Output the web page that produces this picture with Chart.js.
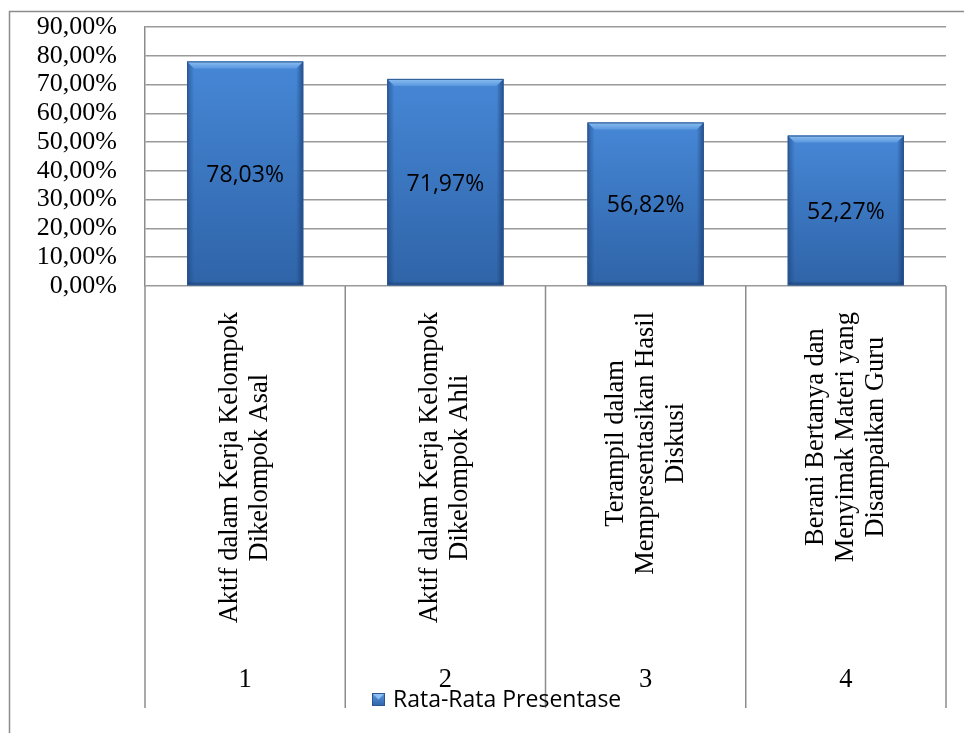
<!DOCTYPE html>
<html>
<head>
<meta charset="utf-8">
<script src="https://cdn.jsdelivr.net/npm/chart.js@4.4.0/dist/chart.umd.min.js"></script>
<style>
html,body{margin:0;padding:0;background:#fff;}
#wrap{width:964px;height:733px;position:relative;}
canvas{display:block;}
</style>
</head>
<body>
<div id="wrap"><canvas id="c" width="964" height="733"></canvas></div>
<script>
const categoryNumbers = ["1", "2", "3", "4"];
const categoryNames = [
  ["Aktif dalam Kerja Kelompok", "Dikelompok Asal"],
  ["Aktif dalam Kerja Kelompok", "Dikelompok Ahli"],
  ["Terampil dalam", "Mempresentasikan Hasil", "Diskusi"],
  ["Berani Bertanya dan", "Menyimak Materi yang", "Disampaikan Guru"]
];
const seriesName = "Rata-Rata Presentase";
const values = [78.03, 71.97, 56.82, 52.27];
const yMin = 0, yMax = 90, yStep = 10;

const SERIF = "'Liberation Serif','Times New Roman',serif";
const SANS = "'Open Sans','Noto Sans',sans-serif";
const fmt = v => v.toFixed(2).replace('.', ',') + '%';

const decor = {
  id: 'decor',
  beforeDraw(chart) {
    const ctx = chart.ctx;
    ctx.save();
    ctx.strokeStyle = '#8c8c8c';
    ctx.lineWidth = 1.5;
    ctx.beginPath();
    ctx.moveTo(9.5, 733);
    ctx.lineTo(9.5, 11.5);
    ctx.lineTo(964, 11.5);
    ctx.stroke();
    ctx.restore();
  },
  afterDatasetsDraw(chart) {
    const ctx = chart.ctx;
    const meta = chart.getDatasetMeta(0);
    ctx.save();
    meta.data.forEach((el, i) => {
      const p = el.getProps(['x', 'y', 'width', 'base'], true);
      const l = p.x - p.width / 2, r = p.x + p.width / 2, t = p.y, b = p.base;
      const bv = 7;
      let g = ctx.createLinearGradient(0, t, 0, b);
      g.addColorStop(0, '#4687d6');
      g.addColorStop(1, '#2f64a8');
      ctx.fillStyle = g;
      ctx.fillRect(l, t, r - l, b - t);
      g = ctx.createLinearGradient(l, 0, l + bv, 0);
      g.addColorStop(0, 'rgba(25,60,115,0.55)');
      g.addColorStop(1, 'rgba(25,60,115,0)');
      ctx.fillStyle = g;
      ctx.beginPath();
      ctx.moveTo(l, t); ctx.lineTo(l + bv, t + bv); ctx.lineTo(l + bv, b - 3); ctx.lineTo(l, b); ctx.closePath();
      ctx.fill();
      g = ctx.createLinearGradient(r, 0, r - bv, 0);
      g.addColorStop(0, 'rgba(20,50,100,0.65)');
      g.addColorStop(1, 'rgba(20,50,100,0)');
      ctx.fillStyle = g;
      ctx.beginPath();
      ctx.moveTo(r, t); ctx.lineTo(r - bv, t + bv); ctx.lineTo(r - bv, b - 3); ctx.lineTo(r, b); ctx.closePath();
      ctx.fill();
      g = ctx.createLinearGradient(0, t, 0, t + bv);
      g.addColorStop(0, '#8cc0f2');
      g.addColorStop(1, '#5a97df');
      ctx.fillStyle = g;
      ctx.beginPath();
      ctx.moveTo(l, t); ctx.lineTo(r, t); ctx.lineTo(r - bv, t + bv); ctx.lineTo(l + bv, t + bv); ctx.closePath();
      ctx.fill();
      g = ctx.createLinearGradient(0, b - 4, 0, b);
      g.addColorStop(0, 'rgba(20,45,90,0)');
      g.addColorStop(1, 'rgba(20,45,90,0.6)');
      ctx.fillStyle = g;
      ctx.fillRect(l, b - 4, r - l, 4);
      ctx.strokeStyle = '#2b568f';
      ctx.lineWidth = 1;
      ctx.strokeRect(l + 0.5, t + 0.5, r - l - 1, b - t - 1);
      ctx.fillStyle = '#000';
      ctx.font = '23px ' + SANS;
      ctx.textAlign = 'center';
      ctx.textBaseline = 'middle';
      ctx.fillText(fmt(values[i]), p.x, (t + b) / 2 + 2);
    });
    ctx.restore();
  },
  afterDraw(chart) {
    const ctx = chart.ctx;
    const xs = chart.scales.x;
    const area = chart.chartArea;
    const n = categoryNumbers.length;
    const half = (xs.getPixelForValue(1) - xs.getPixelForValue(0)) / 2;
    ctx.save();
    ctx.strokeStyle = '#8c8c8c';
    ctx.lineWidth = 1.5;
    for (let i = 0; i <= n; i++) {
      const x = i < n ? xs.getPixelForValue(i) - half : xs.getPixelForValue(n - 1) + half;
      ctx.beginPath();
      ctx.moveTo(x, area.bottom);
      ctx.lineTo(x, 708);
      ctx.stroke();
    }
    ctx.fillStyle = '#000';
    ctx.font = '26.5px ' + SERIF;
    ctx.textAlign = 'center';
    ctx.textBaseline = 'middle';
    const lineH = 30;
    const topY = 312;
    categoryNames.forEach((lines, i) => {
      const cx = xs.getPixelForValue(i);
      const maxW = Math.max(...lines.map(s => ctx.measureText(s).width));
      const cy = topY + maxW / 2;
      lines.forEach((s, j) => {
        const lx = cx + (j - (lines.length - 1) / 2) * lineH;
        ctx.save();
        ctx.translate(lx, cy);
        ctx.rotate(-Math.PI / 2);
        ctx.fillText(s, 0, 0);
        ctx.restore();
      });
      ctx.fillText(categoryNumbers[i], cx, 680);
    });
    const mx = 372, my = 693, ms = 13;
    let g = ctx.createLinearGradient(0, my, 0, my + ms);
    g.addColorStop(0, '#5b98e0');
    g.addColorStop(1, '#2f64a8');
    ctx.fillStyle = g;
    ctx.fillRect(mx, my, ms, ms);
    ctx.fillStyle = '#8cc0f2';
    ctx.beginPath();
    ctx.moveTo(mx, my); ctx.lineTo(mx + ms, my); ctx.lineTo(mx + ms / 2, my + ms / 2); ctx.closePath();
    ctx.fill();
    ctx.strokeStyle = '#2b568f';
    ctx.lineWidth = 1;
    ctx.strokeRect(mx + 0.5, my + 0.5, ms - 1, ms - 1);
    ctx.fillStyle = '#000';
    ctx.font = '23px ' + SANS;
    ctx.textAlign = 'left';
    ctx.textBaseline = 'middle';
    ctx.fillText(seriesName, 393, 700);
    ctx.restore();
  }
};

new Chart(document.getElementById('c'), {
  type: 'bar',
  data: {
    labels: categoryNumbers,
    datasets: [{
      label: seriesName,
      data: values,
      backgroundColor: '#3d7bcb',
      borderWidth: 0,
      barPercentage: 0.58,
      categoryPercentage: 1.0
    }]
  },
  options: {
    responsive: false,
    animation: false,
    events: [],
    layout: { padding: { left: 0, right: 18, top: 27, bottom: 447 } },
    plugins: { legend: { display: false }, tooltip: { enabled: false } },
    scales: {
      x: { display: false, offset: true },
      y: {
        min: yMin, max: yMax,
        afterFit(s) { s.width = 145; s.paddingTop = 0; s.paddingBottom = 0; },
        ticks: {
          stepSize: yStep,
          autoSkip: false,
          padding: 28,
          color: '#000',
          font: { family: SERIF, size: 26 },
          callback: v => fmt(v)
        },
        grid: { color: '#9a9a9a', lineWidth: 1.5, drawTicks: false },
        border: { display: true, color: '#8c8c8c', width: 1.5 }
      }
    }
  },
  plugins: [decor]
});
</script>
</body>
</html>
